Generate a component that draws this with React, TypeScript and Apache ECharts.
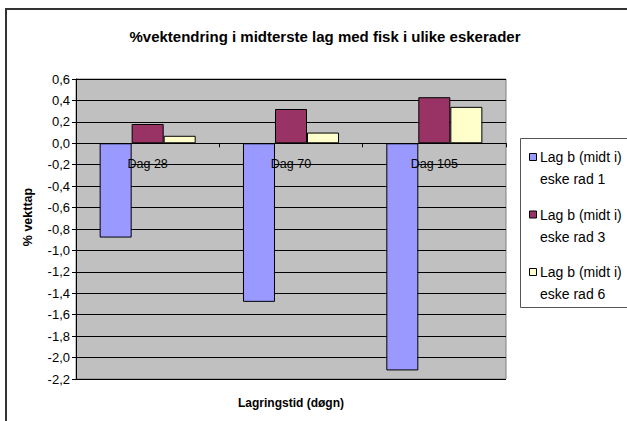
import React, { useEffect, useRef } from "react";
import * as echarts from "echarts";

const categories = ["Dag 28", "Dag 70", "Dag 105"];
const legendLine1 = ["Lag b (midt i)", "Lag b (midt i)", "Lag b (midt i)"];
const legendLine2 = ["eske rad 1", "eske rad 3", "eske rad 6"];
const seriesNames = ["Lag b (midt i) eske rad 1", "Lag b (midt i) eske rad 3", "Lag b (midt i) eske rad 6"];
const rad1 = [-0.88, -1.48, -2.12];
const rad3 = [0.18, 0.32, 0.43];
const rad6 = [0.07, 0.1, 0.34];
const colors = ["#9999FF", "#993366", "#FFFFCC"];
const yMin = -2.2;
const yMax = 0.6;
const yStep = 0.2;

const FONT = "Arial, 'Liberation Sans', sans-serif";

export default function App() {
  const ref = useRef<HTMLDivElement>(null);
  useEffect(() => {
    if (!ref.current) return;
    const chart = echarts.init(ref.current, null, { renderer: "svg" });
    const values = [rad1, rad3, rad6];
    const gridTop = 79;
    const gridHeight = 300;
    const zeroOffset = -(gridHeight * (0 - yMin)) / (yMax - yMin);
    const legendGraphics: any[] = [];
    legendGraphics.push({
      type: "rect",
      shape: { x: 520.5, y: 138.5, width: 200, height: 169 },
      style: { fill: "#fff", stroke: "#555", lineWidth: 1 },
      z: 10,
    });
    values.forEach((_, i) => {
      const y1 = 157 + 57.5 * i;
      legendGraphics.push({
        type: "rect",
        shape: { x: 529.5, y: y1 - 3.5, width: 7, height: 7 },
        style: { fill: colors[i], stroke: "#000", lineWidth: 1 },
        z: 11,
      });
      legendGraphics.push({
        type: "text",
        x: 540,
        y: y1,
        style: { text: legendLine1[i], font: `14px ${FONT}`, fill: "#000", textVerticalAlign: "middle" },
        z: 11,
      });
      legendGraphics.push({
        type: "text",
        x: 540,
        y: y1 + 22,
        style: { text: legendLine2[i], font: `14px ${FONT}`, fill: "#000", textVerticalAlign: "middle" },
        z: 11,
      });
    });

    chart.setOption({
      animation: false,
      backgroundColor: "#ffffff",
      title: {
        text: "%vektendring i midterste lag med fisk i ulike eskerader",
        left: 320,
        textAlign: "center",
        top: 24,
        textStyle: { fontFamily: FONT, fontSize: 15, fontWeight: "bold", color: "#000" },
      },
      grid: {
        left: 76,
        top: gridTop,
        width: 430,
        height: gridHeight,
        show: true,
        backgroundColor: "#C0C0C0",
        borderColor: "#808080",
        borderWidth: 1,
      },
      xAxis: {
        type: "category",
        data: categories,
        position: "bottom",
        offset: zeroOffset,
        z: 5,
        axisLine: { show: true, onZero: false, lineStyle: { color: "#000", width: 1 } },
        axisTick: { show: true, length: 4, alignWithLabel: false, lineStyle: { color: "#000" } },
        axisLabel: { margin: 14, fontFamily: FONT, fontSize: 12.5, color: "#000" },
        splitLine: { show: false },
      },
      yAxis: {
        type: "value",
        min: yMin,
        max: yMax,
        interval: yStep,
        axisLine: { show: true, lineStyle: { color: "#000", width: 1 } },
        axisTick: { show: true, length: 4, lineStyle: { color: "#000" } },
        axisLabel: {
          margin: 6,
          fontFamily: FONT,
          fontSize: 13,
          color: "#000",
          formatter: (v: number) => (Math.abs(v) < 1e-9 ? "0,0" : v.toFixed(1).replace(".", ",")),
        },
        splitLine: { show: true, lineStyle: { color: "#000", width: 1 } },
      },
      series: values.map((d, i) => ({
        name: seriesNames[i],
        type: "bar",
        data: d,
        barGap: "0%",
        barCategoryGap: "33%",
        itemStyle: { color: colors[i], borderColor: "#000", borderWidth: 1 },
      })),
      graphic: [
        {
          type: "rect",
          shape: { x: 6, y: 9, width: 800, height: 600 },
          style: { fill: "none", stroke: "#333", lineWidth: 2 },
          silent: true,
        },
        {
          type: "text",
          x: 28,
          y: 217,
          rotation: Math.PI / 2,
          style: {
            text: "% vekttap",
            font: `bold 12.5px ${FONT}`,
            fill: "#000",
            textAlign: "center",
            textVerticalAlign: "middle",
          },
        },
        {
          type: "text",
          x: 291,
          y: 403,
          style: {
            text: "Lagringstid (døgn)",
            font: `bold 12px ${FONT}`,
            fill: "#000",
            textAlign: "center",
            textVerticalAlign: "middle",
          },
        },
        ...legendGraphics,
      ],
    });
    return () => chart.dispose();
  }, []);
  return (
    <div
      ref={ref}
      style={{ position: "absolute", left: 0, top: 0, width: 627, height: 421, background: "#fff" }}
    />
  );
}
